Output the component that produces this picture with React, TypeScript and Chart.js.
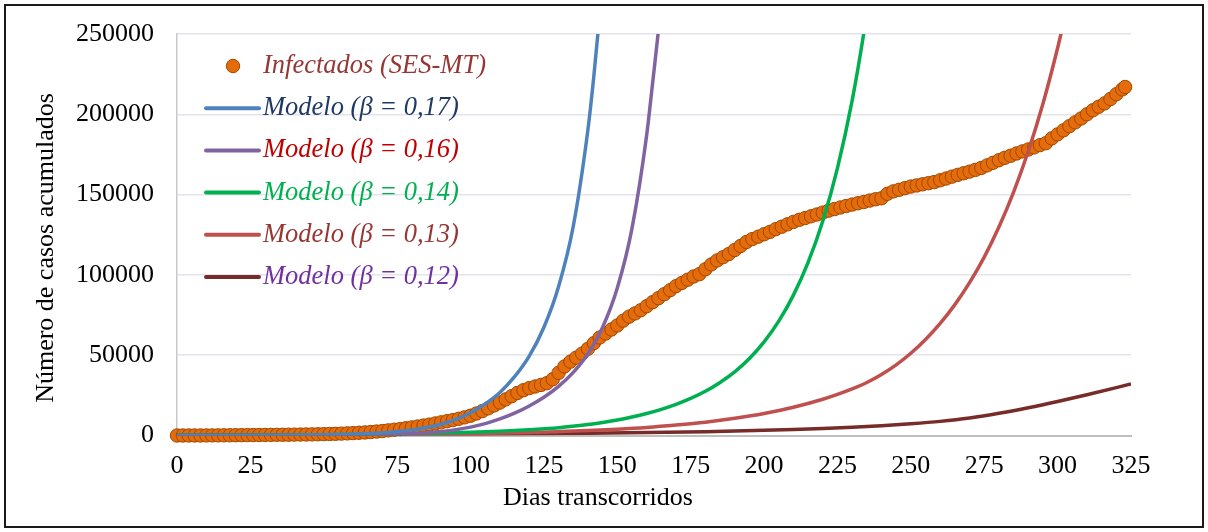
import { useEffect, useRef } from "react";
import { Chart, registerables } from "chart.js";

Chart.register(...registerables);

// ---------- data ----------
const seriesLabels = [
  "Infectados (SES-MT)",
  "Modelo (β = 0,17)",
  "Modelo (β = 0,16)",
  "Modelo (β = 0,14)",
  "Modelo (β = 0,13)",
  "Modelo (β = 0,12)",
];

const xAxisTitle = "Dias transcorridos";
const yAxisTitle = "Número de casos acumulados";

const infectedDays = [
  0, 2, 4, 6, 8, 10, 12, 14, 16, 18, 20, 22, 24, 26, 28, 30, 32, 34, 36, 38,
  40, 42, 44, 46, 48, 50, 52, 54, 56, 58, 60, 62, 64, 66, 68, 70, 72, 74, 76, 78,
  80, 82, 84, 86, 88, 90, 92, 94, 96, 98, 100, 102, 104, 106, 108, 110, 112, 114, 116, 118,
  120, 122, 124, 126, 128, 130, 132, 134, 136, 138, 140, 142, 144, 146, 148, 150, 152, 154, 156, 158,
  160, 162, 164, 166, 168, 170, 172, 174, 176, 178, 180, 182, 184, 186, 188, 190, 192, 194, 196, 198,
  200, 202, 204, 206, 208, 210, 212, 214, 216, 218, 220, 222, 224, 226, 228, 230, 232, 234, 236, 238,
  240, 242, 244, 246, 248, 250, 252, 254, 256, 258, 260, 262, 264, 266, 268, 270, 272, 274, 276, 278,
  280, 282, 284, 286, 288, 290, 292, 294, 296, 298, 300, 302, 304, 306, 308, 310, 312, 314, 316, 318,
  320, 322, 323,
];
const infectedCases = [
  0, 10, 20, 30, 40, 50, 70, 90, 120, 150, 190, 220, 250, 280, 310, 350, 390, 420, 460, 500,
  550, 600, 650, 700, 770, 850, 950, 1050, 1180, 1330, 1500, 1700, 1900, 2150, 2450, 2800, 3200, 3600, 4000, 4500,
  5000, 5600, 6200, 6800, 7500, 8200, 8900, 9600, 10400, 11300, 12300, 13700, 15200, 16900, 18700, 20500, 22500, 24500, 26500, 28200,
  29500, 30500, 31500, 32600, 35000, 39000, 43000, 46000, 48500, 51000, 54000, 57500, 61000, 63500, 66000, 68500, 71500, 74000, 76000, 78000,
  80500, 83000, 85500, 88000, 90500, 93000, 95000, 97000, 99000, 100500, 103500, 106500, 109000, 111000, 113000, 115500, 118000, 120500, 122300, 123800,
  125300, 126800, 128500, 130000, 131500, 133000, 134300, 135400, 136500, 137600, 138800, 140000, 141000, 142000, 142900, 143800, 144600, 145400, 146300, 147100,
  147700, 150500, 152000, 153000, 154000, 155000, 155700, 156400, 157100, 157800, 158900, 160000, 161200, 162300, 163300, 164300, 165400, 166600, 168200, 169800,
  171400, 172900, 174200, 175600, 176900, 178100, 179400, 180800, 182000, 185000, 187500, 190000, 192600, 195000, 197400, 200000, 202500, 204700, 206800, 209500,
  212500, 215500, 217000,
];

const beta017Days = [0, 20, 40, 50, 60, 70, 75, 80, 85, 90, 95, 100, 105, 110, 115, 120, 125, 130, 135, 140, 142, 144, 146];
const beta017Cases = [13, 50, 210, 430, 860, 1730, 2460, 3500, 4950, 7000, 10000, 14200, 19700, 26800, 36600, 49400, 67400, 92800, 130300, 190600, 223600, 262000, 308000];

const beta016Days = [0, 20, 40, 50, 60, 70, 75, 80, 85, 90, 95, 100, 105, 110, 115, 120, 125, 130, 135, 140, 145, 150, 155, 160, 162, 164, 166];
const beta016Cases = [5, 20, 80, 150, 300, 600, 850, 1220, 1750, 2500, 3600, 5200, 7400, 10300, 13900, 18400, 23800, 30600, 39300, 50900, 67400, 91800, 129000, 187000, 219000, 252000, 290000];

const beta014Days = [0, 50, 80, 100, 110, 120, 130, 140, 145, 150, 155, 160, 165, 170, 175, 180, 185, 190, 195, 200, 205, 210, 215, 220, 225, 230, 234, 236];
const beta014Cases = [100, 450, 1100, 2000, 2700, 3600, 4800, 6800, 8100, 9600, 11500, 13700, 16300, 19400, 23100, 27500, 33000, 39600, 47900, 58300, 71200, 87400, 107800, 133600, 166500, 208500, 250900, 276000];

const beta013Days = [0, 50, 100, 120, 130, 140, 150, 160, 170, 180, 190, 200, 210, 220, 225, 230, 235, 240, 245, 250, 255, 260, 265, 270, 275, 280, 285, 290, 295, 300, 303];
const beta013Cases = [80, 300, 1100, 1850, 2400, 3050, 3900, 5000, 6500, 8300, 10700, 13700, 17600, 22600, 25600, 29000, 33000, 38000, 44000, 51200, 59800, 69800, 81500, 95200, 111100, 129800, 151600, 177000, 206600, 241300, 264700];

const beta012Days = [0, 50, 100, 120, 140, 160, 180, 190, 200, 210, 220, 230, 240, 250, 260, 270, 280, 290, 300, 310, 320, 325];
const beta012Cases = [100, 300, 800, 1050, 1400, 1850, 2400, 2750, 3200, 3750, 4400, 5150, 6100, 7300, 8800, 10900, 13800, 17300, 21200, 25400, 29800, 32100];

const xMin = 0;
const xMax = 325;
const xStep = 25;
const yMin = 0;
const yMax = 250000;
const yStep = 50000;

// ---------- styles ----------
const FONT_FAMILY = "'Times New Roman', 'Liberation Serif', serif";
const lineColors = ["#4F81BD", "#8064A2", "#00B050", "#C0504D", "#772C2A"];
const legendTextColors = ["#953735", "#1F3864", "#C00000", "#00B050", "#953735", "#7030A0"];
const markerFill = "#E46C0A";
const markerBorder = "#A04800";

function toPoints(xs: number[], ys: number[]) {
  return xs.map((x, i) => ({ x, y: ys[i] }));
}

const legendPlugin = {
  id: "insideLegend",
  afterDatasetsDraw(chart: any) {
    const { ctx, chartArea } = chart;
    const left = chartArea.left;
    const y0 = chartArea.top + 32;
    const step = 42.2;
    ctx.save();
    chart.data.datasets.forEach((ds: any, i: number) => {
      const y = y0 + i * step;
      if (i === 0) {
        ctx.beginPath();
        ctx.arc(left + 56, y, 6.7, 0, Math.PI * 2);
        ctx.fillStyle = markerFill;
        ctx.fill();
        ctx.lineWidth = 1;
        ctx.strokeStyle = markerBorder;
        ctx.stroke();
      } else {
        ctx.beginPath();
        ctx.moveTo(left + 29, y);
        ctx.lineTo(left + 82, y);
        ctx.strokeStyle = ds.borderColor;
        ctx.lineWidth = 4;
        ctx.lineCap = "round";
        ctx.stroke();
      }
      ctx.font = `italic 26.5px ${FONT_FAMILY}`;
      ctx.fillStyle = legendTextColors[i];
      ctx.textAlign = "left";
      ctx.textBaseline = "middle";
      ctx.fillText(ds.label, left + 86, y);
    });
    ctx.restore();
  },
};

const axisTitlePlugin = {
  id: "axisTitles",
  afterDraw(chart: any) {
    const { ctx } = chart;
    ctx.save();
    ctx.font = `26px ${FONT_FAMILY}`;
    ctx.fillStyle = "#000";
    ctx.textAlign = "center";
    ctx.textBaseline = "alphabetic";
    ctx.fillText(xAxisTitle, 598, 505);
    ctx.translate(53, 248);
    ctx.rotate(-Math.PI / 2);
    ctx.fillText(yAxisTitle, 0, 0);
    ctx.restore();
  },
};

export default function App() {
  const canvasRef = useRef<HTMLCanvasElement | null>(null);

  useEffect(() => {
    const canvas = canvasRef.current;
    if (!canvas) return;
    const lineSets = [
      [beta017Days, beta017Cases],
      [beta016Days, beta016Cases],
      [beta014Days, beta014Cases],
      [beta013Days, beta013Cases],
      [beta012Days, beta012Cases],
    ];
    const datasets: any[] = [
      {
        label: seriesLabels[0],
        data: toPoints(infectedDays, infectedCases),
        showLine: false,
        pointRadius: 6.7,
        pointBackgroundColor: markerFill,
        pointBorderColor: markerBorder,
        pointBorderWidth: 1,
        borderColor: markerFill,
        backgroundColor: markerFill,
        clip: false,
        order: 1,
      },
      ...lineSets.map(([xs, ys], i) => ({
        label: seriesLabels[i + 1],
        data: toPoints(xs, ys),
        borderColor: lineColors[i],
        backgroundColor: lineColors[i],
        borderWidth: 3.5,
        pointRadius: 0,
        cubicInterpolationMode: "monotone",
        fill: false,
        order: 0,
      })),
    ];

    const tickFont = { family: FONT_FAMILY, size: 26 };

    const chart = new Chart(canvas, {
      type: "line",
      data: { datasets },
      options: {
        animation: false,
        responsive: false,
        maintainAspectRatio: false,
        devicePixelRatio: 1,
        layout: { padding: { top: 34, right: 77, left: 0, bottom: 0 } },
        plugins: {
          legend: { display: false },
          tooltip: { enabled: false },
          title: { display: false },
        },
        scales: {
          x: {
            type: "linear",
            min: xMin,
            max: xMax,
            ticks: {
              stepSize: xStep,
              font: tickFont,
              color: "#000",
              padding: 0,
              maxRotation: 0,
              autoSkip: false,
            },
            grid: {
              display: false,
              drawTicks: true,
              tickLength: 15,
              tickColor: "rgba(0,0,0,0)",
            },
            border: { display: true, color: "#BFBFBF", width: 2 },
            afterFit: (s: any) => {
              s.height = 96.5;
            },
          },
          y: {
            type: "linear",
            min: yMin,
            max: yMax,
            ticks: {
              stepSize: yStep,
              font: tickFont,
              color: "#000",
              padding: 0,
              callback: (v: any) => String(v),
            },
            grid: {
              color: "#E4E4EC",
              lineWidth: 1.5,
              drawTicks: true,
              tickLength: 23,
              tickColor: "rgba(0,0,0,0)",
            },
            border: { display: true, color: "#C8C8C8", width: 1.5 },
            afterFit: (s: any) => {
              s.width = 177;
            },
          },
        },
      } as any,
      plugins: [legendPlugin, axisTitlePlugin],
    });
    return () => chart.destroy();
  }, []);

  return (
    <div
      style={{
        position: "absolute",
        left: 0,
        top: 0,
        width: 1208,
        height: 532,
        background: "#fff",
        overflow: "hidden",
      }}
    >
      <div
        style={{
          position: "absolute",
          left: 4,
          top: 4,
          width: 1200,
          height: 524,
          boxSizing: "border-box",
          border: "2px solid #1a1a1a",
        }}
      />
      <canvas
        ref={canvasRef}
        width={1208}
        height={532}
        style={{ position: "absolute", left: 0, top: 0, width: 1208, height: 532 }}
      />
    </div>
  );
}
